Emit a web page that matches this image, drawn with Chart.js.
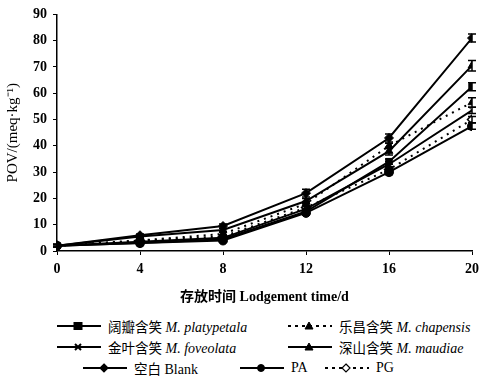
<!DOCTYPE html>
<html>
<head>
<meta charset="utf-8">
<script src="https://cdn.jsdelivr.net/npm/chart.js@4"></script>
<style>
  body { margin: 0; background: #fff; }
  #wrap { position: relative; width: 485px; height: 382px; }
  #box { position: absolute; left: 0; top: 0; width: 485px; height: 310px; }
  .lg { position: absolute; font: 14px "Liberation Serif", "Noto Sans CJK SC", serif; color: #000; white-space: nowrap; }
  .lg svg { position: absolute; left: 0; top: 0; }
  .lg span { position: absolute; top: -1px; line-height: 16px; }
  .cn { font-family: "Noto Sans CJK SC", sans-serif; font-size: 13.5px; }
</style>
</head>
<body>
<div id="wrap">
  <div id="box"><canvas id="c"></canvas></div>
  <div id="legend"></div>
</div>
<script>
// storage days
const days = [0, 4, 8, 12, 16, 20];

// POV values, meq/kg
const platypetala = [2, 3, 4.5, 15, 34, 62.5];
const chapensis   = [2, 4, 6.5, 18, 40, 56.5];
const foveolata   = [2, 3.5, 5, 16, 33, 53.5];
const maudiae     = [2, 5.5, 8, 19, 38, 70.5];
const blank       = [2, 6, 9.5, 22, 43, 81];
const pa          = [2, 3, 4, 14.5, 30, 47.5];
const pg          = [2, 4, 5.5, 16.5, 31, 50];

// error bars (sd)
const errPlaty = [0.5, 0.5, 0.6, 0.8, 1, 1.5];
const errChap  = [0.5, 0.5, 0.6, 0.8, 1, 1.8];
const errFove  = [0.5, 0.5, 0.6, 0.8, 1, 1.2];
const errMaud  = [0.5, 0.5, 0.6, 1, 1.5, 2];
const errBlank = [0.5, 0.5, 0.8, 1.5, 1.5, 1.5];
const errPa    = [0.5, 0.5, 0.6, 0.8, 1, 1.2];
const errPg    = [0.5, 0.5, 0.6, 0.8, 1, 1.2];

const yTicks = [0, 10, 20, 30, 40, 50, 60, 70, 80, 90];

const pts = arr => arr.map((v, i) => ({ x: days[i], y: v }));

function ds(label, data, err, style, filled, dashed){
  return {
    label, data: pts(data), err,
    borderColor: "#000", borderWidth: 2,
    borderDash: dashed ? [2, 5] : [],
    pointStyle: style, pointRadius: 4.5, pointBorderWidth: filled ? 1 : 1.5,
    pointBackgroundColor: filled ? "#000" : "#fff", pointBorderColor: "#000",
    tension: 0, fill: false
  };
}

// draw vertical error bars with caps, through the scales
const errBars = {
  id: "errBars",
  afterDatasetsDraw(chart){
    const {ctx, scales: {x, y}} = chart;
    ctx.save();
    ctx.strokeStyle = "#000";
    ctx.lineWidth = 1.5;
    chart.data.datasets.forEach(d => {
      d.data.forEach((p, i) => {
        const e = d.err[i];
        const px = x.getPixelForValue(p.x);
        const top = y.getPixelForValue(p.y + e), bot = y.getPixelForValue(p.y - e);
        ctx.beginPath();
        ctx.moveTo(px, top); ctx.lineTo(px, bot);
        ctx.moveTo(px - 4, top); ctx.lineTo(px + 4, top);
        ctx.moveTo(px - 4, bot); ctx.lineTo(px + 4, bot);
        ctx.stroke();
      });
    });
    ctx.restore();
  }
};

const datasets = [
  ds("阔瓣含笑 M. platypetala", platypetala, errPlaty, "rect", true, false),
  ds("乐昌含笑 M. chapensis", chapensis, errChap, "triangle", true, true),
  ds("金叶含笑 M. foveolata", foveolata, errFove, "crossRot", true, false),
  ds("深山含笑 M. maudiae", maudiae, errMaud, "triangle", true, false),
  ds("空白 Blank", blank, errBlank, "rectRot", true, false),
  ds("PA", pa, errPa, "circle", true, false),
  ds("PG", pg, errPg, "rectRot", false, true)
];

new Chart(document.getElementById("c"), {
  type: "line",
  data: { datasets },
  plugins: [errBars],
  options: {
    responsive: true, maintainAspectRatio: false, animation: false,
    layout: { padding: { top: 8, right: 10, left: 0, bottom: 0 } },
    plugins: { legend: { display: false }, tooltip: { enabled: false } },
    scales: {
      x: {
        type: "linear", min: 0, max: 20,
        afterBuildTicks: s => { s.ticks = days.map(v => ({ value: v })); },
        afterFit: s => { s.height = 59; },
        border: { color: "#000", width: 1.5 },
        grid: { drawOnChartArea: false, color: "#000", tickLength: 4 },
        ticks: { color: "#000", padding: 6, font: { family: "Liberation Serif", size: 14, weight: "bold" } },
        title: { display: true, text: "存放时间 Lodgement time/d", color: "#000", padding: { top: 10 },
                 font: { family: "'Liberation Serif', 'Noto Sans CJK SC'", size: 14, weight: "bold" } }
      },
      y: {
        min: 0, max: 90,
        afterBuildTicks: s => { s.ticks = yTicks.map(v => ({ value: v })); },
        afterFit: s => { s.width = 57; },
        border: { color: "#000", width: 1.5 },
        grid: { drawOnChartArea: false, color: "#000", tickLength: 4 },
        ticks: { color: "#000", padding: 6, font: { family: "Liberation Serif", size: 14, weight: "bold" } },
        title: { display: true, text: "POV/(meq·kg⁻¹)", color: "#000", padding: { bottom: 1 },
                 font: { family: "Liberation Serif", size: 15 } }
      }
    }
  }
});

// legend: rows laid out like the figure
const legendPos = [
  [57, 319, 0], [288, 319, 1],
  [57, 340, 2], [288, 340, 3],
  [83, 361, 4], [240, 361, 5], [325, 361, 6]
];
const lg = document.getElementById("legend");
legendPos.forEach(([lx, ly, i]) => {
  const d = datasets[i];
  const el = document.createElement("div");
  el.className = "lg";
  el.style.left = lx + "px"; el.style.top = ly + "px";
  const dash = d.borderDash.length ? 'stroke-dasharray="3,4"' : "";
  const fill = d.pointBackgroundColor;
  let mark = "";
  const cx = 21, cy = 7;
  if (d.pointStyle === "rect") mark = `<rect x="${cx-4}" y="${cy-3.5}" width="8" height="7" fill="${fill}" stroke="#000"/>`;
  else if (d.pointStyle === "triangle") mark = `<polygon points="${cx},${cy-4} ${cx+4},${cy+3} ${cx-4},${cy+3}" fill="${fill}" stroke="#000"/>`;
  else if (d.pointStyle === "crossRot") mark = `<path d="M${cx-3},${cy-3}L${cx+3},${cy+3}M${cx+3},${cy-3}L${cx-3},${cy+3}" stroke="#000" stroke-width="2"/>`;
  else if (d.pointStyle === "rectRot") mark = `<polygon points="${cx},${cy-4} ${cx+4},${cy} ${cx},${cy+4} ${cx-4},${cy}" fill="${fill}" stroke="#000" stroke-width="1.2"/>`;
  else mark = `<circle cx="${cx}" cy="${cy}" r="3.5" fill="${fill}" stroke="#000"/>`;
  const parts = d.label.split(" ");
  const cn = /[\u4e00-\u9fff]/.test(parts[0]) ? parts.shift() : "";
  const rest = parts.join(" ");
  const latin = rest.startsWith("M.") ? `<i>${rest}</i>` : rest;
  el.innerHTML = `<svg width="44" height="14"><line x1="0" y1="7" x2="44" y2="7" stroke="#000" stroke-width="2" ${dash}/>${mark}</svg>` +
    `<span style="left:51px">${cn ? `<span class="cn" style="position:static">${cn}</span>&nbsp;` : ""}${latin}</span>`;
  lg.appendChild(el);
});
</script>
</body>
</html>
